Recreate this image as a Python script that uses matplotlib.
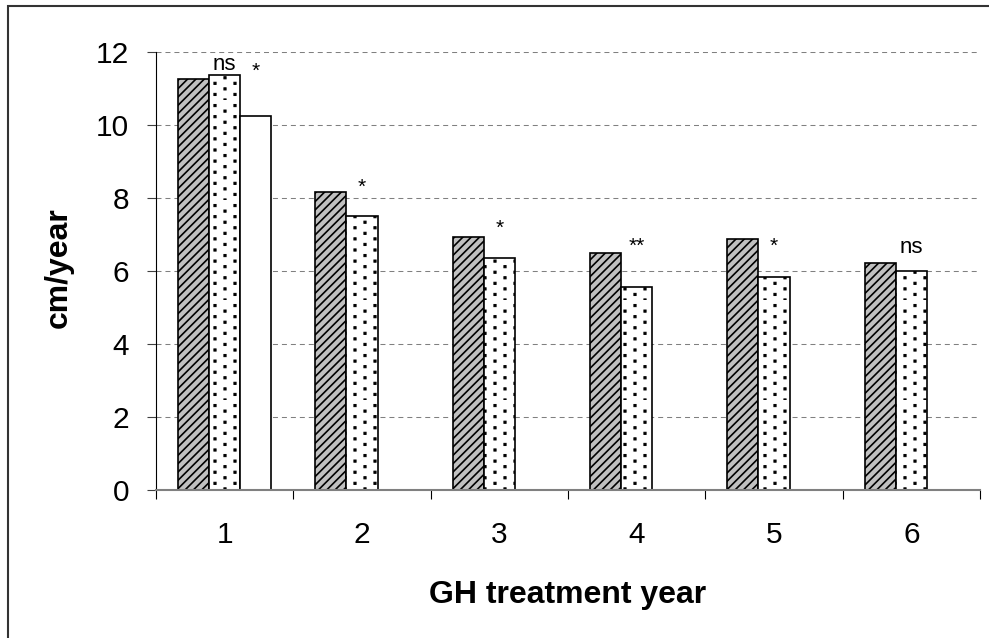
import numpy as np
import matplotlib
matplotlib.use("Agg")
import matplotlib.pyplot as plt
import matplotlib.hatch as mhatch
from matplotlib.path import Path
from matplotlib.patches import Rectangle

plt.rcParams['font.family'] = ['Liberation Sans', 'DejaVu Sans']
plt.rcParams['hatch.linewidth'] = 1.2

# ---- data ----
years = [1, 2, 3, 4, 5, 6]
year_labels = ['1', '2', '3', '4', '5', '6']
series_a = [11.26, 8.17, 6.94, 6.50, 6.89, 6.22]   # hatched
series_b = [11.37, 7.51, 6.35, 5.57, 5.84, 6.00]   # dotted
series_c = [10.26]                                 # white (year 1 only)
sig_b_labels = ['ns', '*', '*', '**', '*', 'ns']
sig_b_heights = [11.52, 8.14, 7.01, 6.52, 6.52, 6.50]
sig_c_labels = ['*']
sig_c_heights = [11.33]
y_ticks = [0, 2, 4, 6, 8, 10, 12]


# custom staggered square-dot hatch (replaces the 'o' pattern)
class StaggerDots(mhatch.HatchPatternBase):
    def __init__(self, hatch, density):
        self.pts = []
        if hatch.count('o'):
            ncols, nrows = 10, 9
            for i in range(ncols):
                off = 0.5 / nrows if i % 2 else 0.0
                for j in range(nrows):
                    self.pts.append(((i + 0.5) / ncols, j / nrows + off))
        self.num_vertices = len(self.pts) * 5

    def set_vertices_and_codes(self, vertices, codes):
        s = 0.011
        for k, (px, py) in enumerate(self.pts):
            vertices[5 * k:5 * k + 5] = [(px - s, py - s), (px + s, py - s),
                                         (px + s, py + s), (px - s, py + s),
                                         (px - s, py - s)]
            codes[5 * k] = Path.MOVETO
            codes[5 * k + 1:5 * k + 4] = Path.LINETO
            codes[5 * k + 4] = Path.CLOSEPOLY


mhatch._hatch_types = [c for c in mhatch._hatch_types
                       if c is not mhatch.SmallCircles] + [StaggerDots]

W, H = 989, 638
fig = plt.figure(figsize=(W / 100, H / 100), dpi=100)
ax = fig.add_axes([156 / W, 1 - 490 / H, (980 - 156) / W, (490 - 52) / H])

x = np.array(years, dtype=float)
w = 0.226
ax.bar(x - w, series_a, w, color='#c0c0c0', edgecolor='black', hatch='////', linewidth=1.2, zorder=3)
bars_b = ax.bar(x, series_b, w, color='white', edgecolor='black', hatch='o', linewidth=1.2, zorder=3)
for b in bars_b:
    try:
        b.set_hatch_linewidth(0.7)
    except AttributeError:
        pass
ax.bar(x[:len(series_c)] + w, series_c, w, color='white', edgecolor='black', linewidth=1.2, zorder=3)

for xi, lab, yy in zip(x, sig_b_labels, sig_b_heights):
    ax.text(xi, yy, lab, ha='center', va='baseline', fontsize=16 if lab == 'ns' else 15, zorder=4)
for xi, lab, yy in zip(x[:len(sig_c_labels)] + w, sig_c_labels, sig_c_heights):
    ax.text(xi, yy, lab, ha='center', va='baseline', fontsize=16 if lab == 'ns' else 15, zorder=4)

ax.set_xlim(0.5, len(years) + 0.5)
ax.set_ylim(0, 12)
ax.set_yticks(y_ticks)
ax.set_yticklabels([str(t) for t in y_ticks])
ax.set_xticks(x)
ax.set_xticklabels(year_labels)
ax.set_xticks(np.arange(0.5, len(years) + 1, 1.0), minor=True)
ax.tick_params(axis='x', which='major', length=0, pad=22, labelsize=21.5)
ax.tick_params(axis='x', which='minor', length=6.5, width=0.8, color='black', direction='out')
ax.tick_params(axis='y', length=6.5, width=0.8, color='#404040', pad=13, labelsize=21.5)

ax.set_axisbelow(True)
ax.yaxis.grid(True, color='#808080', linestyle=(0, (4.8, 3.8)), linewidth=0.75)
ax.xaxis.grid(False)
for s in ['top', 'right']:
    ax.spines[s].set_visible(False)
ax.spines['left'].set_color('black')
ax.spines['left'].set_linewidth(0.8)
ax.spines['bottom'].set_color('#808080')
ax.spines['bottom'].set_linewidth(1.5)
ax.spines['bottom'].set_zorder(3.5)

fig.text(59 / W, 1 - 268 / H, 'cm/year', rotation=90, ha='center', va='center',
         fontsize=23, fontweight='bold')
fig.text(568 / W, 1 - 603 / H, 'GH treatment year', ha='center', va='baseline',
         fontsize=23, fontweight='bold')

fig.patches.append(Rectangle((8 / W, -0.1), 1.2, (1 - 6 / H) + 0.1, transform=fig.transFigure,
                             fill=False, edgecolor='#333333', linewidth=1.5, clip_on=False))

fig.savefig('out.png', dpi=100)
